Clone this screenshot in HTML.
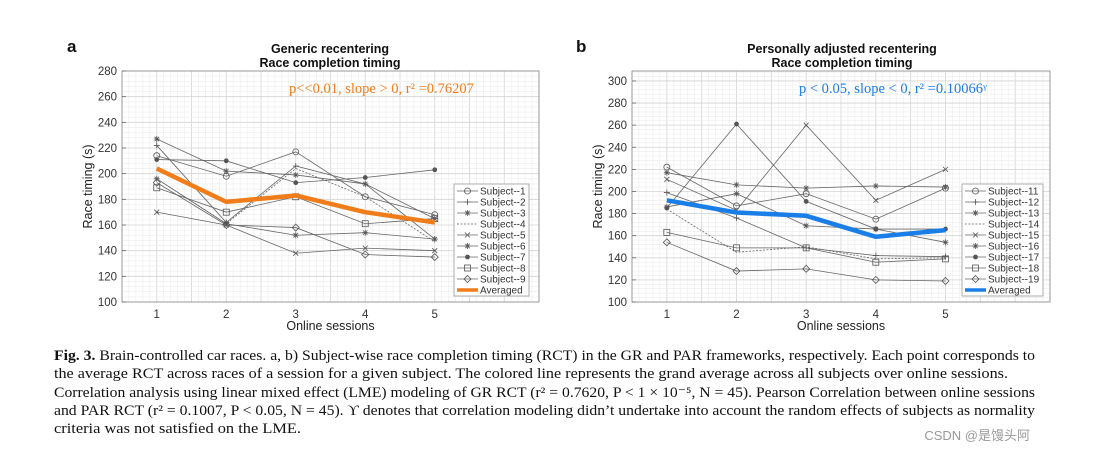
<!DOCTYPE html>
<html><head><meta charset="utf-8">
<style>
body{margin:0;background:#fff;}
svg{display:block;font-family:"Liberation Sans",sans-serif;}
</style></head>
<body>
<svg id="root" width="1099" height="453" viewBox="0 0 1099 453">
<g id="chartA"></g>
<g id="chartB"></g>
<g id="caption" font-family="'Liberation Serif',serif" font-size="14.5" fill="#111">
<text x="54" y="360" textLength="981" lengthAdjust="spacingAndGlyphs"><tspan font-weight="bold">Fig. 3.</tspan>  Brain-controlled car races. a, b) Subject-wise race completion timing (RCT) in the GR and PAR frameworks, respectively. Each point corresponds to</text>
<text x="54" y="378" textLength="954" lengthAdjust="spacingAndGlyphs">the average RCT across races of a session for a given subject. The colored line represents the grand average across all subjects over online sessions.</text>
<text x="54" y="397" textLength="981" lengthAdjust="spacingAndGlyphs">Correlation analysis using linear mixed effect (LME) modeling of GR RCT (r² = 0.7620, P &lt; 1 × 10⁻⁵, N = 45). Pearson Correlation between online sessions</text>
<text x="54" y="415" textLength="981" lengthAdjust="spacingAndGlyphs">and PAR RCT (r² = 0.1007, P &lt; 0.05, N = 45). ϒ denotes that correlation modeling didn’t undertake into account the random effects of subjects as normality</text>
<text x="54" y="433" textLength="247" lengthAdjust="spacingAndGlyphs">criteria was not satisfied on the LME.</text>
</g>
<text x="1030" y="440" font-size="13" fill="#999" text-anchor="end" font-family="'Liberation Sans','Noto Sans CJK SC',sans-serif">CSDN @是馒头阿</text>
</svg>
<script>
const sessions=[1,2,3,4,5];
const namesA=["Subject--1","Subject--2","Subject--3","Subject--4","Subject--5","Subject--6","Subject--7","Subject--8","Subject--9"];
const markersA=["o","+","*","none","x","star","dot","sq","dia"];
const s1=[214,198,217,182,168];
const s2=[222,162,206,192,149];
const s3=[227,202,199,192,165];
const s4=[196,161,204,182,147];
const s5=[170,160,138,142,140];
const s6=[196,161,152,154,149];
const s7=[211,210,193,197,203];
const s8=[189,170,182,161,165];
const s9=[193,160,158,137,135];
const avgA=[204,178,183,170,162];
const namesB=["Subject--11","Subject--12","Subject--13","Subject--14","Subject--15","Subject--16","Subject--17","Subject--18","Subject--19"];
const s11=[222,187,198,175,203];
const s12=[199,176,149,142,141];
const s13=[186,198,169,166,154];
const s14=[184,145,150,139,140];
const s15=[211,183,260,192,220];
const s16=[217,206,203,205,204];
const s17=[185,261,191,166,166];
const s18=[163,149,149,136,139];
const s19=[154,128,130,120,119];
const avgB=[192,181,178,159,165];
const yTicksA=[100,120,140,160,180,200,220,240,260,280];
const yTicksB=[100,120,140,160,180,200,220,240,260,280,300];

const NS="http://www.w3.org/2000/svg";
function mk(p,tag,attrs){const e=document.createElementNS(NS,tag);for(const k in attrs)e.setAttribute(k,attrs[k]);p.appendChild(e);return e;}

function marker(g,type,x,y){
  const c="#555";let e;
  if(type==="o"||type==="dot"){e=mk(g,"circle",{cx:x,cy:y,r:type==="dot"?2:3,fill:type==="dot"?c:"none",stroke:c,"stroke-width":0.8});}
  else if(type==="sq"){e=mk(g,"rect",{x:x-3,y:y-3,width:6,height:6,fill:"none",stroke:c,"stroke-width":0.8});}
  else if(type==="dia"){e=mk(g,"path",{d:`M${x} ${y-3.5}L${x+3.5} ${y}L${x} ${y+3.5}L${x-3.5} ${y}Z`,fill:"none",stroke:c,"stroke-width":0.8});}
  else if(type==="+"){e=mk(g,"path",{d:`M${x-3} ${y}H${x+3}M${x} ${y-3}V${y+3}`,stroke:c,"stroke-width":0.8});}
  else if(type==="x"){e=mk(g,"path",{d:`M${x-2.5} ${y-2.5}L${x+2.5} ${y+2.5}M${x-2.5} ${y+2.5}L${x+2.5} ${y-2.5}`,stroke:c,"stroke-width":0.8});}
  else if(type==="*"||type==="star"){e=mk(g,"path",{d:`M${x-3} ${y}H${x+3}M${x} ${y-3}V${y+3}M${x-2.2} ${y-2.2}L${x+2.2} ${y+2.2}M${x-2.2} ${y+2.2}L${x+2.2} ${y-2.2}`,stroke:c,"stroke-width":0.8});}
  else return;
  
  
}

function drawChart(g,cfg){
  const L=cfg.left,R=cfg.right,T=71,B=302;
  const X=v=>L+(v-0.5)/6*(R-L);
  const Y=v=>B-(v-100)/(cfg.ymax-100)*(B-T);
  const grid=mk(g,"g",{});
  
  
  for(let v=0.5;v<=6.5001;v+=0.1){const maj=Math.abs((v*2)-Math.round(v*2))<1e-6;mk(grid,"line",{x1:X(v),x2:X(v),y1:T,y2:B,stroke:maj?"#d4d4d4":"#ececec","stroke-width":maj?0.8:0.6});}
  for(let v=100;v<=cfg.ymax+0.01;v+=4){const maj=v%20===0;mk(grid,"line",{x1:L,x2:R,y1:Y(v),y2:Y(v),stroke:maj?"#d4d4d4":"#ececec","stroke-width":maj?0.8:0.6});}
  const frame=mk(g,"rect",{x:L,y:T,width:R-L,height:B-T,fill:"none",stroke:"#888","stroke-width":0.8});
  
  
  cfg.yTicks.forEach(v=>{const t=mk(g,"text",{x:L-5,y:Y(v)+4,"text-anchor":"end","font-size":11.5,fill:"#333"});t.textContent=v;
    
    
    mk(g,"line",{x1:L,x2:L+4,y1:Y(v),y2:Y(v),stroke:"#666","stroke-width":0.8});});
  sessions.forEach(v=>{const t=mk(g,"text",{x:X(v),y:318,"text-anchor":"middle","font-size":11.5,fill:"#333"});t.textContent=v;
    
    });
  let t=mk(g,"text",{x:(L+R)/2,y:330,"text-anchor":"middle","font-size":12.5,fill:"#222"});t.textContent="Online sessions";
  
  t=mk(g,"text",{x:0,y:0,"text-anchor":"middle","font-size":12.5,fill:"#222",transform:`translate(${L-30},${(T+B)/2}) rotate(-90)`});t.textContent="Race timing (s)";
  
  t=mk(g,"text",{x:cfg.tx,y:53,"text-anchor":"middle","font-size":12.5,"font-weight":"bold",fill:"#111"});t.textContent=cfg.title1;
  
  t=mk(g,"text",{x:cfg.tx,y:67,"text-anchor":"middle","font-size":12.5,"font-weight":"bold",fill:"#111"});t.textContent="Race completion timing";
  
  t=mk(g,"text",{x:cfg.px,y:52,"font-size":17,"font-weight":"bold",fill:"#111"});t.textContent=cfg.letter;
  
  t=mk(g,"text",{x:cfg.ax,y:93,"font-size":14.5,fill:cfg.color,"font-family":"'Liberation Serif',serif"});t.textContent=cfg.annot;
  
  cfg.series.forEach((s,i)=>{
    const pl=mk(g,"polyline",{points:s.map((v,j)=>X(sessions[j])+","+Y(v)).join(" "),fill:"none",stroke:"#666","stroke-width":0.8,"stroke-dasharray":markersA[i]==="none"?"2,1.5":"none"});
    
    
    s.forEach((v,j)=>marker(g,markersA[i],X(sessions[j]),Y(v)));
  });
  const av=mk(g,"polyline",{points:cfg.avg.map((v,j)=>X(sessions[j])+","+Y(v)).join(" "),fill:"none",stroke:cfg.color,"stroke-width":4.5,"stroke-linejoin":"round"});
  
  
  const lg=mk(g,"g",{});
  
  
  mk(lg,"rect",{x:cfg.lx,y:184,width:cfg.lw,height:112,fill:"#fff",stroke:"#999","stroke-width":0.8});
  cfg.names.concat(["Averaged"]).forEach((n,i)=>{
    const y=191+i*11;
    if(i<9){mk(lg,"line",{x1:cfg.lx+3,x2:cfg.lx+24,y1:y,y2:y,stroke:"#666","stroke-width":0.8,"stroke-dasharray":markersA[i]==="none"?"2,1.5":"none"});marker(lg,markersA[i],cfg.lx+13.5,y);}
    else mk(lg,"line",{x1:cfg.lx+3,x2:cfg.lx+24,y1:y,y2:y,stroke:cfg.color,"stroke-width":3.5});
    const tt=mk(lg,"text",{x:cfg.lx+26,y:y+3.5,"font-size":10,fill:"#333"});tt.textContent=n;
    
    
  });
}
drawChart(document.getElementById("chartA"),{left:122,right:539,ymax:280,yTicks:yTicksA,title1:"Generic recentering",tx:330,px:67,letter:"a",ax:289,annot:"p<<0.01, slope > 0, r² =0.76207",color:"#f07d1a",series:[s1,s2,s3,s4,s5,s6,s7,s8,s9],avg:avgA,names:namesA,lx:454,lw:75});
drawChart(document.getElementById("chartB"),{left:632,right:1050,ymax:309,yTicks:yTicksB,title1:"Personally adjusted recentering",tx:842,px:576,letter:"b",ax:799,annot:"p < 0.05, slope < 0, r² =0.10066ᵞ",color:"#1a7ee8",series:[s11,s12,s13,s14,s15,s16,s17,s18,s19],avg:avgB,names:namesB,lx:962,lw:81});
</script>
</body></html>
